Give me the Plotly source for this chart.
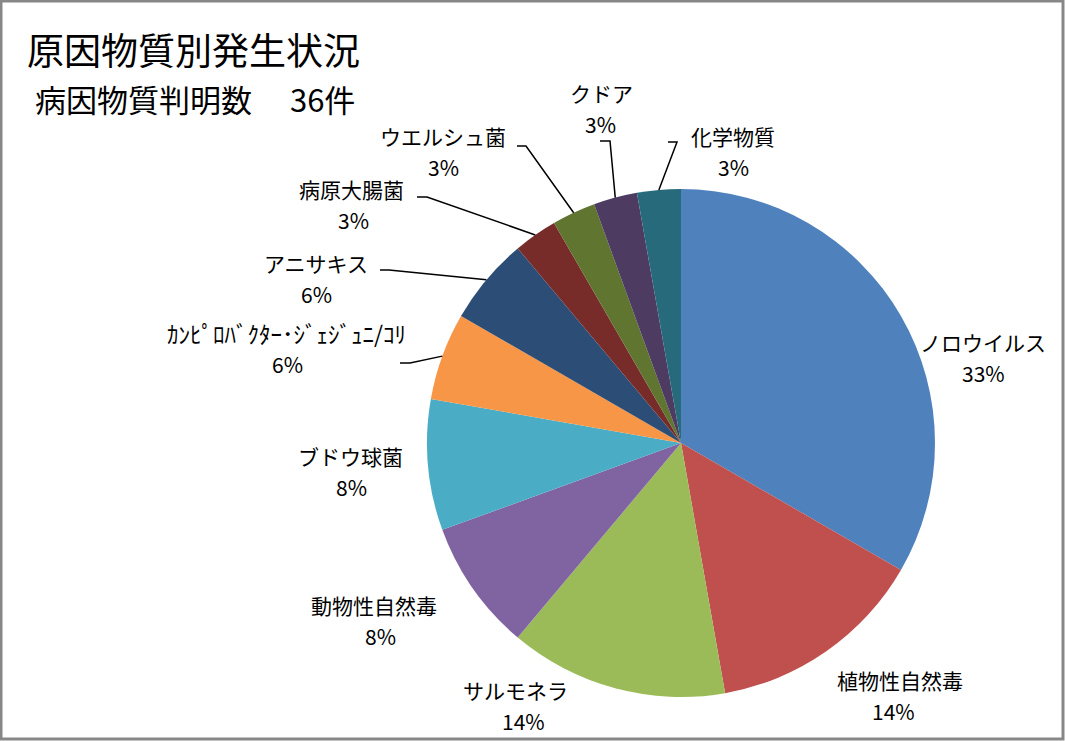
import math
import plotly.graph_objects as go

# ---- data ----
categories = ["ノロウイルス", "植物性自然毒", "サルモネラ", "動物性自然毒", "ブドウ球菌",
              "ｶﾝﾋﾟﾛﾊﾞｸﾀｰ･ｼﾞｪｼﾞｭﾆ/ｺﾘ", "アニサキス", "病原大腸菌", "ウエルシュ菌",
              "クドア", "化学物質"]
counts = [12, 5, 5, 3, 3, 2, 2, 1, 1, 1, 1]
title_text = "原因物質別発生状況"
subtitle_text = "病因物質判明数\u3000 36件"

# ---- styles / layout ----
colors = ["#4F81BD", "#C0504D", "#9BBB59", "#8064A2", "#4BACC6", "#F79646",
          "#2C4D75", "#772C2A", "#5F7530", "#4D3B62", "#276A7C"]
W, H = 1065, 741
CX, CY, R = 681, 443, 254           # pie centre / radius in pixels
FONT = "Noto Sans CJK JP, sans-serif"
LABEL_SIZE = 21
label_sizes = [LABEL_SIZE] * 5 + [23] + [LABEL_SIZE] * 5
LINE_GAP = 31
# label (name line) centre in pixels, per slice
label_pos = [(983, 342), (900, 680), (515, 690), (374, 605), (350, 456),
             (286, 333), (316, 263), (351, 189), (443, 136), (601, 93), (733, 136)]
pct_dx = [0, -7, 8, 6, 1, 1, 0, 2, 0, -1, 0]
# leader knee segments (start, knee) in pixels; None = no leader
leaders = [None, None, None, None, None,
           ((400, 363), (410, 363)), ((380, 270), (389, 270)), ((417, 197), (427, 197)),
           ((517, 146), (526, 146)), ((600, 141), (610, 141)), ((668, 142), (677, 142))]


def px(x):
    return x / W


def py(y):
    return 1 - y / H


fig = go.Figure(go.Pie(
    labels=categories, values=counts, sort=False, direction="clockwise", rotation=0,
    marker=dict(colors=colors, line=dict(width=0)), textinfo="none", hoverinfo="label+percent",
    domain=dict(x=[px(CX - R), px(CX + R)], y=[py(CY + R), py(CY - R)]),
    showlegend=False,
))

total = sum(counts)
annotations = []
shapes = []
cum = 0
for i, (name, c) in enumerate(zip(categories, counts)):
    mid = (cum + c / 2) / total * 2 * math.pi
    cum += c
    pct = f"{round(c / total * 100)}%"
    lx, ly = label_pos[i]
    annotations.append(dict(x=px(lx), y=py(ly), xref="paper", yref="paper", text=name,
                            showarrow=False, xanchor="center", yanchor="middle",
                            font=dict(family=FONT, size=label_sizes[i], color="#000")))
    annotations.append(dict(x=px(lx + pct_dx[i]), y=py(ly + LINE_GAP), xref="paper", yref="paper",
                            text=pct, showarrow=False, xanchor="center", yanchor="middle",
                            font=dict(family=FONT, size=LABEL_SIZE, color="#000")))
    if leaders[i] is not None:
        (sx, sy), (kx, ky) = leaders[i]
        ex = CX + R * math.sin(mid)
        ey = CY - R * math.cos(mid)
        path = f"M {px(sx)},{py(sy)} L {px(kx)},{py(ky)} L {px(ex)},{py(ey)}"
        shapes.append(dict(type="path", path=path, xref="paper", yref="paper",
                           line=dict(color="#000", width=1.5)))

annotations.append(dict(x=px(25), y=py(49), xref="paper", yref="paper", text=title_text,
                        showarrow=False, xanchor="left", yanchor="middle",
                        font=dict(family=FONT, size=37, color="#000")))
annotations.append(dict(x=px(33), y=py(98), xref="paper", yref="paper", text=subtitle_text,
                        showarrow=False, xanchor="left", yanchor="middle",
                        font=dict(family=FONT, size=31, color="#000")))

shapes.append(dict(type="rect", xref="paper", yref="paper", x0=px(1), y0=py(1),
                   x1=px(W - 2), y1=py(H - 2), line=dict(color="#878787", width=3)))

fig.update_layout(width=W, height=H, margin=dict(l=0, r=0, t=0, b=0),
                  paper_bgcolor="white", plot_bgcolor="white",
                  annotations=annotations, shapes=shapes)
fig.write_html("out.html")
